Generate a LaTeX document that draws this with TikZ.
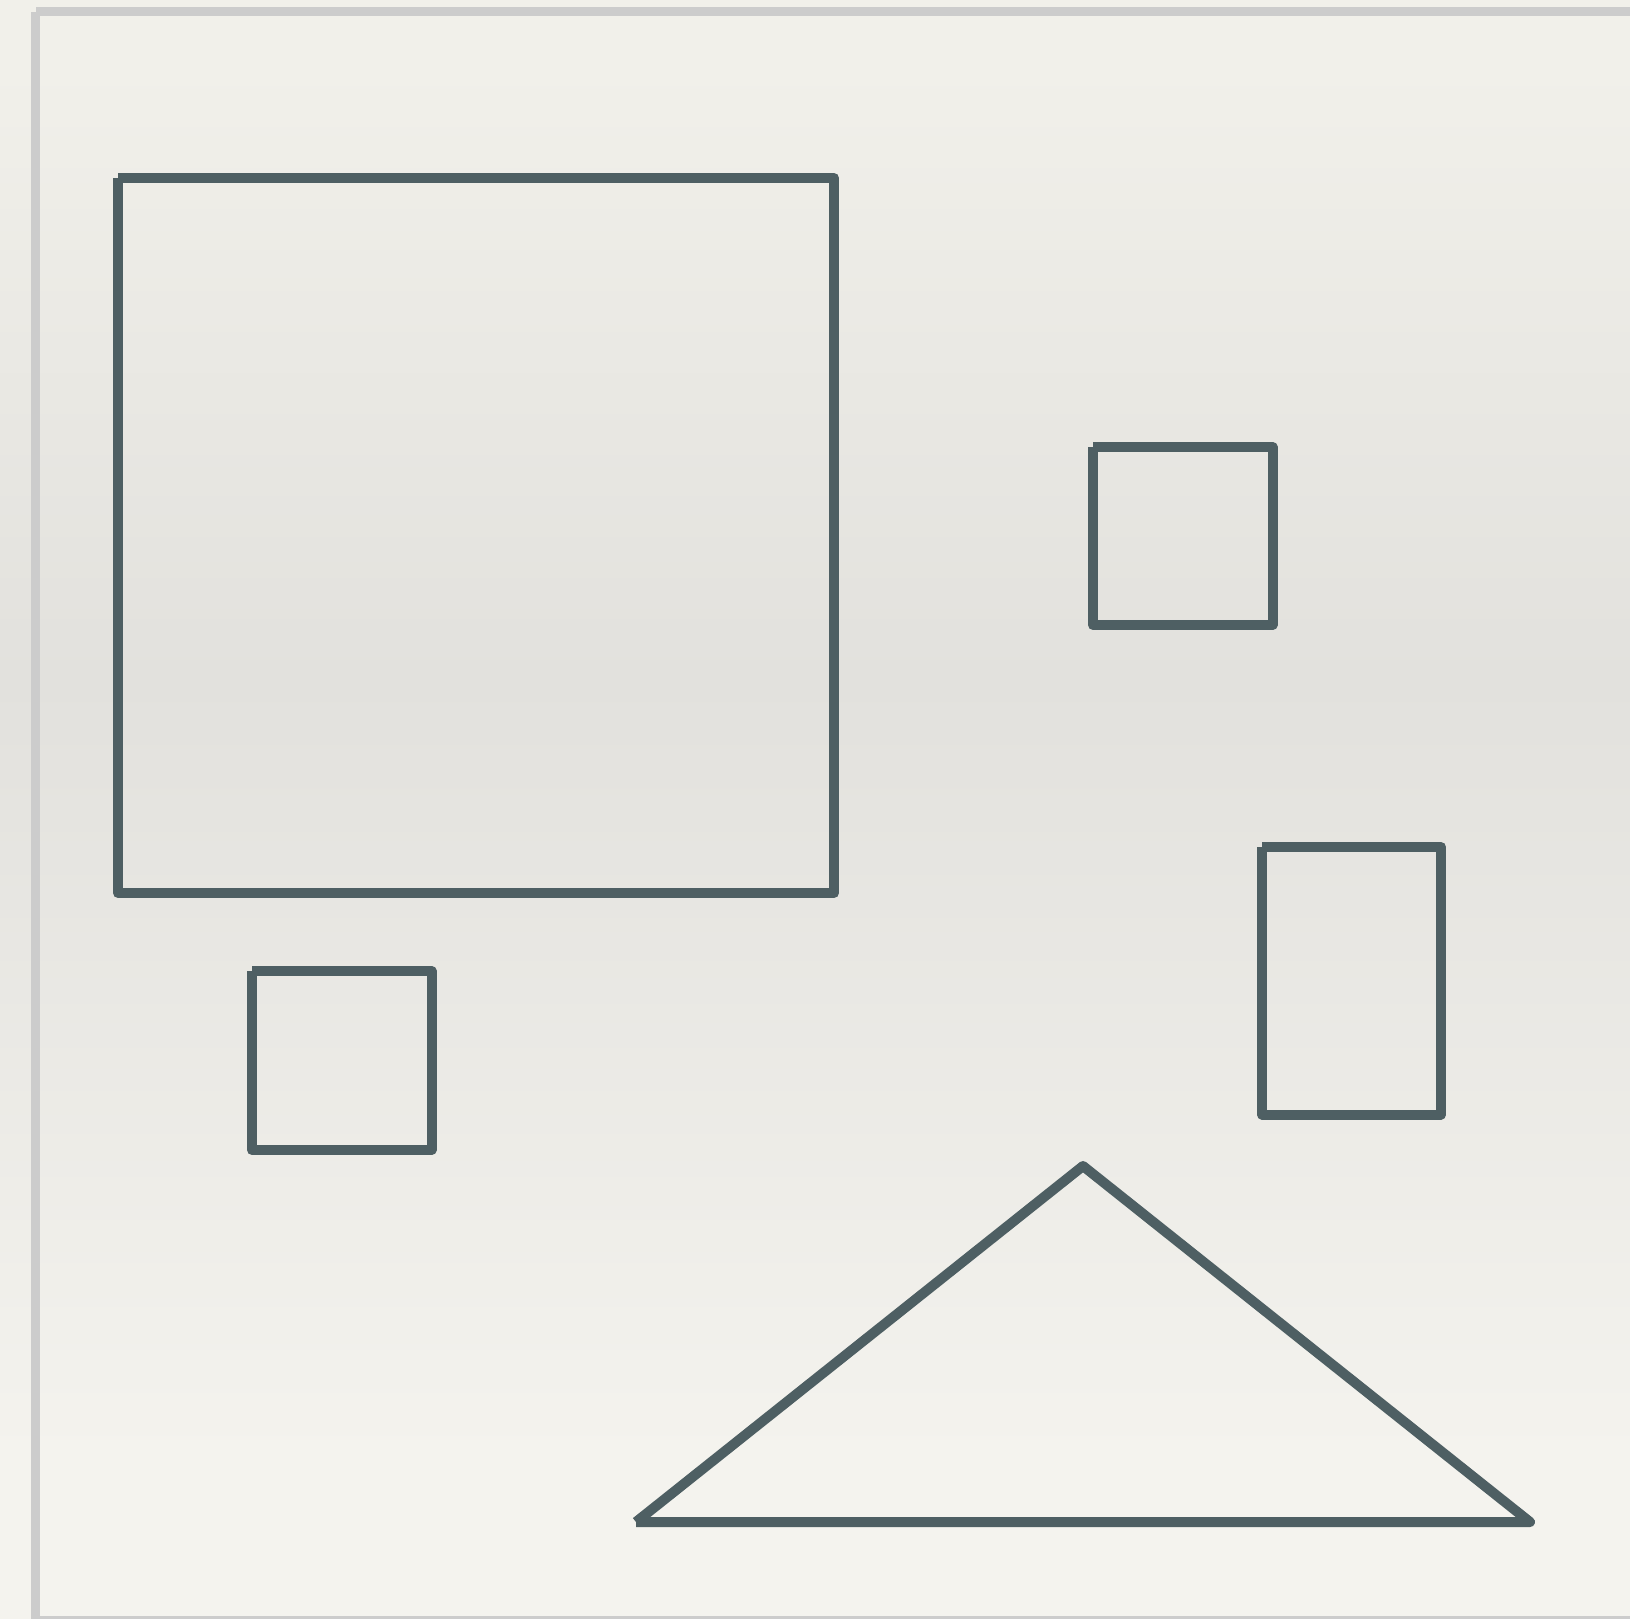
\documentclass[tikz,border=0pt]{standalone}
\definecolor{inkline}{HTML}{4E5F63}
\definecolor{frameline}{HTML}{CCCCCC}
\definecolor{papertop}{HTML}{F1F0EA}
\definecolor{papermid}{HTML}{E2E1DD}
\definecolor{paperbot}{HTML}{F4F3EE}
\pgfdeclareverticalshading{papershade}{100bp}{color(0bp)=(paperbot); color(30bp)=(paperbot); color(54bp)=(papermid); color(73bp)=(papertop); color(100bp)=(papertop)}
\tikzset{
  shapeline/.style={draw=inkline, line width=10pt, line join=round, line cap=butt},
  frame/.style={draw=frameline, line width=9pt, line cap=butt}
}
\begin{document}
\begin{tikzpicture}[x=1pt,y=-1pt]
\useasboundingbox (0,0) rectangle (1630,1619);
\shade[shading=papershade] (0,0) rectangle (1630,1619);
% frame
\draw[frame] (36,11.5) -- (1630,11.5);
\draw[frame] (35.5,12) -- (35.5,1619);
\draw[draw=frameline, line width=3pt] (35.5,1617.5) -- (1630,1617.5);
% large square
\draw[shapeline] (118,178) -- (834,178) -- (834,893) -- (118,893) -- (118,178);
% small square top right
\draw[shapeline] (1093,447) -- (1272.5,447) -- (1272.5,625) -- (1093,625) -- (1093,447);
% small square left
\draw[shapeline] (252,971) -- (431.5,971) -- (431.5,1150) -- (252,1150) -- (252,971);
% rectangle right
\draw[shapeline] (1262,847) -- (1441,847) -- (1441,1114.5) -- (1262,1114.5) -- (1262,847);
% triangle
\draw[shapeline] (636,1522) -- (1083,1166) -- (1530,1522) -- (636,1522);
\end{tikzpicture}
\end{document}
